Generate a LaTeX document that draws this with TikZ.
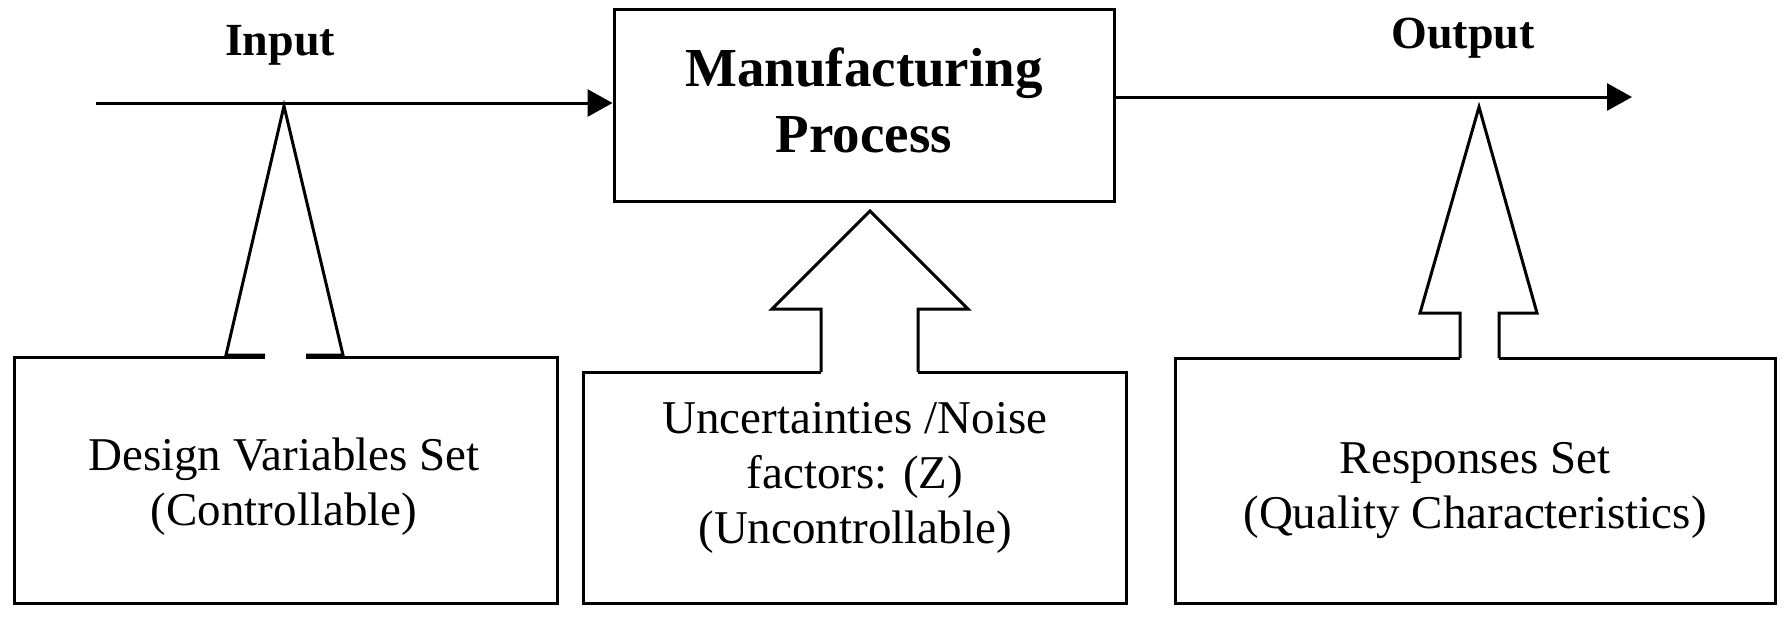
\documentclass[tikz,border=0pt]{standalone}
\usepackage{fontspec}
\setmainfont{Liberation Serif}
\usetikzlibrary{arrows.meta}
\begin{document}
\begin{tikzpicture}[x=0.5pt,y=-0.5pt, line width=1.5pt, line join=miter,
  lbl/.style={font=\fontsize{23}{27.5}\selectfont\bfseries, inner sep=0pt, anchor=base},
  body/.style={font=\fontsize{23.5}{27.5}\selectfont, align=center, inner sep=0pt},
  flow/.style={-{Triangle[length=12.5pt,width=13.5pt]}},
  outline/.style={draw=black, line width=1.5pt}]
\useasboundingbox (0,0) rectangle (1792,618);
% main box
\node[draw, line width=1.5pt, minimum width=250pt, minimum height=96pt, align=center,
  font=\fontsize{27.5}{33}\selectfont\bfseries] (mp) at (864,105) {};
\node[align=center, inner sep=0pt, font=\fontsize{27.5}{33}\selectfont\bfseries] (mptext) at (864,100) {Manufacturing\\Process};
% labels
\node[lbl] (inlbl) at (280,55) {Input};
\node[lbl] (outlbl) at (1463,48) {Output};
% input / output lines
\coordinate (instart) at (96,103);
\coordinate (outend) at (1632,97);
\draw[flow] (instart) -- (instart -| mp.west);
\draw[flow] (outend -| mp.east) -- (outend);
% left box with gap and arrow
\draw[outline] (265,357) -- (14,357) -- (14,603) -- (557,603) -- (557,357) -- (306,357);
\draw[outline] (265,355) -- (226,355) -- (284,106) -- (343,355) -- (306,355);
\node[body] (dv) at (284,487) {Design Variables Set\\(Controllable)};
% middle box with arrow
\draw[outline] (821,372) -- (583,372) -- (583,603) -- (1126,603) -- (1126,372) -- (918,372);
\draw[outline] (821,372) -- (821,309) -- (772,309) -- (870,211) -- (968,309) -- (918,309) -- (918,372);
\node[body] (nz) at (855,478) {Uncertainties /Noise\\factors: (Z)\\(Uncontrollable)};
% right box with arrow
\draw[outline] (1460,358) -- (1175,358) -- (1175,603) -- (1775,603) -- (1775,358) -- (1499,358);
\draw[outline] (1460,358) -- (1460,313) -- (1420,313) -- (1479,107) -- (1537,313) -- (1499,313) -- (1499,358);
\node[body] (rs) at (1475,490) {Responses Set\\(Quality Characteristics)};
\end{tikzpicture}
\end{document}
